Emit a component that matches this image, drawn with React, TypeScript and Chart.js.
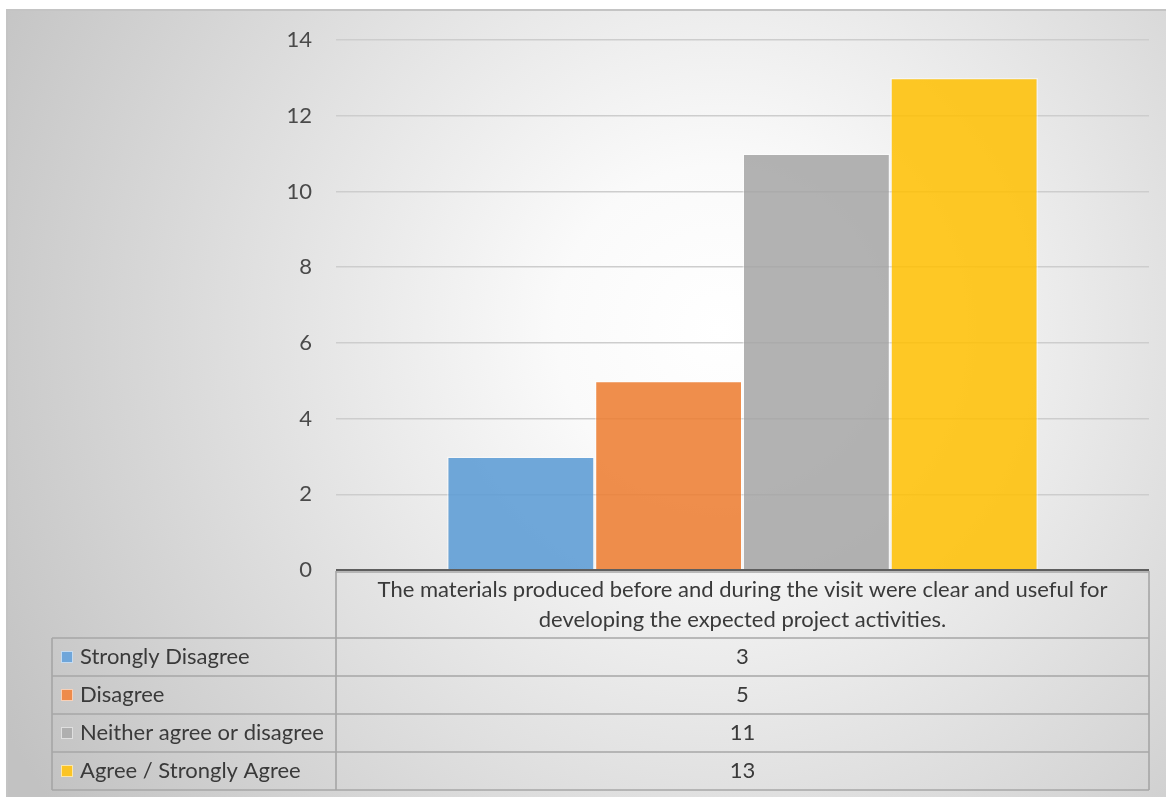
import { useEffect, useRef } from "react";
import { Chart, registerables } from "chart.js";

Chart.register(...registerables);

const categories = [
  "The materials produced before and during the visit were clear and useful for developing the expected project activities.",
];
const categoryLines = [
  "The materials produced before and during the visit were clear and useful for",
  "developing the expected project activities.",
];
const seriesNames = [
  "Strongly Disagree",
  "Disagree",
  "Neither agree or disagree",
  "Agree / Strongly Agree",
];
const stronglyDisagree = [3];
const disagree = [5];
const neitherAgree = [11];
const agreeStrongly = [13];
const seriesValues = [stronglyDisagree, disagree, neitherAgree, agreeStrongly];
const seriesFill = [
  "rgba(91,155,213,0.87)",
  "rgba(237,125,49,0.87)",
  "rgba(165,165,165,0.85)",
  "rgba(255,192,0,0.85)",
];
const seriesSwatch = ["#6FA6DA", "#EE8B4B", "#AFAFAF", "#FBC424"];
const yMin = 0;
const yMax = 14;
const yStep = 2;

const FONT = "Lato, 'Open Sans', sans-serif";
const FONT_SIZE = 22;
const TEXT_COLOR = "#3A3A3A";

const W = 1166;
const H = 797;

const backgroundPlugin = {
  id: "bgPlugin",
  beforeDraw(chart: any) {
    const ctx = chart.ctx;
    ctx.save();
    ctx.fillStyle = "#FFFFFF";
    ctx.fillRect(0, 0, W, H);
    const g = ctx.createRadialGradient(720, 330, 0, 720, 330, 820);
    g.addColorStop(0, "#FFFFFF");
    g.addColorStop(0.2, "#FAFAFA");
    g.addColorStop(1, "#C2C2C2");
    ctx.fillStyle = g;
    ctx.fillRect(7, 10, W - 7, H - 10);
    ctx.strokeStyle = "#C4C4C4";
    ctx.lineWidth = 2;
    ctx.beginPath();
    ctx.moveTo(7, H + 2);
    ctx.lineTo(7, 10);
    ctx.lineTo(W + 2, 10);
    ctx.stroke();
    ctx.restore();
  },
};

const tablePlugin = {
  id: "tablePlugin",
  afterDraw(chart: any) {
    const ctx = chart.ctx;
    const area = chart.chartArea;
    const left = area.left;
    const right = area.right;
    const top = area.bottom;
    const headerH = 68;
    const rowH = 38;
    const legendLeft = left - 284;
    const tableBottom = top + headerH + rowH * seriesNames.length;
    ctx.save();

    // table lines
    ctx.strokeStyle = "#A6A6A6";
    ctx.lineWidth = 1.6;
    ctx.beginPath();
    ctx.moveTo(left, top + 2);
    ctx.lineTo(right, top + 2);
    ctx.moveTo(left, top + 1);
    ctx.lineTo(left, tableBottom);
    ctx.moveTo(right, top + 1);
    ctx.lineTo(right, tableBottom);
    for (let i = 0; i <= seriesNames.length; i++) {
      const y = top + headerH + rowH * i;
      ctx.moveTo(legendLeft, y);
      ctx.lineTo(right, y);
    }
    ctx.moveTo(legendLeft, top + headerH);
    ctx.lineTo(legendLeft, tableBottom);
    ctx.stroke();

    // axis line
    ctx.strokeStyle = "#5E5E5E";
    ctx.lineWidth = 2;
    ctx.beginPath();
    ctx.moveTo(left, top);
    ctx.lineTo(right, top);
    ctx.stroke();

    ctx.fillStyle = TEXT_COLOR;
    ctx.font = `${FONT_SIZE}px ${FONT}`;
    ctx.textAlign = "center";
    ctx.textBaseline = "middle";
    const cx = (left + right) / 2;
    categoryLines.forEach((line, i) => {
      ctx.fillText(line, cx, top + 20 + i * 30);
    });

    seriesNames.forEach((name, i) => {
      const yc = top + headerH + rowH * i + rowH / 2;
      ctx.textAlign = "center";
      ctx.fillStyle = TEXT_COLOR;
      ctx.fillText(String(seriesValues[i][0]), cx, yc);
      // swatch
      ctx.fillStyle = seriesSwatch[i];
      ctx.fillRect(legendLeft + 9, yc - 6, 12, 12);
      ctx.strokeStyle = "rgba(255,255,255,0.6)";
      ctx.lineWidth = 1;
      ctx.strokeRect(legendLeft + 9.5, yc - 5.5, 11, 11);
      ctx.textAlign = "left";
      ctx.fillStyle = TEXT_COLOR;
      ctx.fillText(name, legendLeft + 28, yc);
    });
    ctx.restore();
  },
};

export default function App() {
  const ref = useRef<HTMLCanvasElement | null>(null);
  useEffect(() => {
    document.body.style.margin = "0";
    if (!ref.current) return;
    const chart = new Chart(ref.current, {
      type: "bar",
      data: {
        labels: categories,
        datasets: seriesNames.map((name, i) => ({
          label: name,
          data: seriesValues[i],
          backgroundColor: seriesFill[i],
          borderColor: "rgba(255,255,255,0.45)",
          borderWidth: 1.5,
          categoryPercentage: 0.727,
          barPercentage: 1,
        })),
      },
      options: {
        responsive: false,
        animation: false,
        devicePixelRatio: 1,
        layout: { padding: { left: 0, right: 17, top: 40, bottom: 227 } },
        plugins: {
          legend: { display: false },
          tooltip: { enabled: false },
        },
        scales: {
          x: { display: false },
          y: {
            min: yMin,
            max: yMax,
            ticks: {
              stepSize: yStep,
              padding: 24,
              color: "#4A4A4A",
              font: { family: FONT, size: FONT_SIZE },
            },
            grid: { color: "#CDCDCD", lineWidth: 1.5, drawTicks: false },
            border: { display: false },
            afterFit(scale: any) {
              scale.width = 336;
            },
          },
        },
      },
      plugins: [backgroundPlugin, tablePlugin],
    });
    return () => chart.destroy();
  }, []);
  return (
    <div style={{ position: "absolute", left: 0, top: 0, width: W, height: H }}>
      <canvas ref={ref} width={W} height={H} style={{ width: W, height: H }} />
    </div>
  );
}
